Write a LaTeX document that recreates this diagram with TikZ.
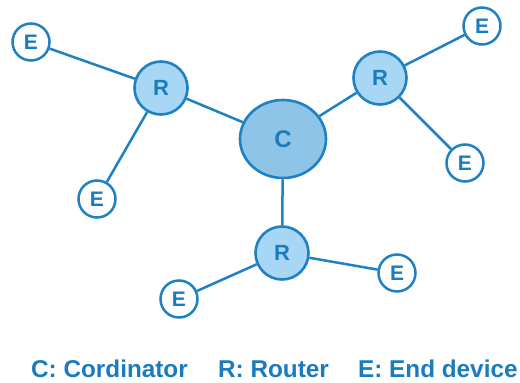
\documentclass[tikz,border=0pt]{standalone}
\usepackage{fontspec}
\setmainfont{Liberation Sans}
\usetikzlibrary{shapes.geometric}
\definecolor{edgeblue}{HTML}{1F80C2}
\definecolor{coordfill}{HTML}{8EC4E7}
\definecolor{routerfill}{HTML}{A8D6F5}
\definecolor{labelblue}{HTML}{1A7BBD}
\begin{document}
\begin{tikzpicture}[x=1pt,y=-1pt,
  link/.style={draw=edgeblue,line width=2.5pt},
  coord/.style={ellipse,draw=edgeblue,fill=coordfill,line width=2.6pt,
    minimum width=86pt,minimum height=78pt,inner sep=0pt,
    text=labelblue,font=\bfseries\fontsize{24}{26}\selectfont},
  router/.style={circle,draw=edgeblue,fill=routerfill,line width=2.6pt,
    minimum size=53pt,inner sep=0pt,
    text=labelblue,font=\bfseries\fontsize{22}{24}\selectfont},
  enddev/.style={circle,draw=edgeblue,fill=white,line width=2.5pt,
    minimum size=37pt,inner sep=0pt,
    text=labelblue,font=\bfseries\fontsize{21}{23}\selectfont},
  legend/.style={text=labelblue,font=\bfseries\fontsize{24.3}{26}\selectfont,
    inner sep=0pt,anchor=base west}]
\useasboundingbox (0,0) rectangle (520,383);
% nodes
\node[coord]  (c)  at (283,139) {C};
\node[router] (r1) at (161,88)  {R};
\node[router] (r2) at (380,78)  {R};
\node[router] (r3) at (282,253) {R};
\node[enddev] (e1) at (31,42)   {E};
\node[enddev] (e2) at (97,199)  {E};
\node[enddev] (e3) at (482,26)  {E};
\node[enddev] (e4) at (465,163) {E};
\node[enddev] (e5) at (397,273) {E};
\node[enddev] (e6) at (179,299) {E};
% links
\draw[link] (c) -- (r1);
\draw[link] (c) -- (r2);
\draw[link] (c) -- (r3);
\draw[link] (r1) -- (e1);
\draw[link] (r1) -- (e2);
\draw[link] (r2) -- (e3);
\draw[link] (r2) -- (e4);
\draw[link] (r3) -- (e5);
\draw[link] (r3) -- (e6);
% legend
\node[legend] (lc) at (31,377) {C: Cordinator};
\node[legend] (lr) at (218,377) {R: Router};
\node[legend] (le) at (358,377) {E: End device};
\end{tikzpicture}
\end{document}
